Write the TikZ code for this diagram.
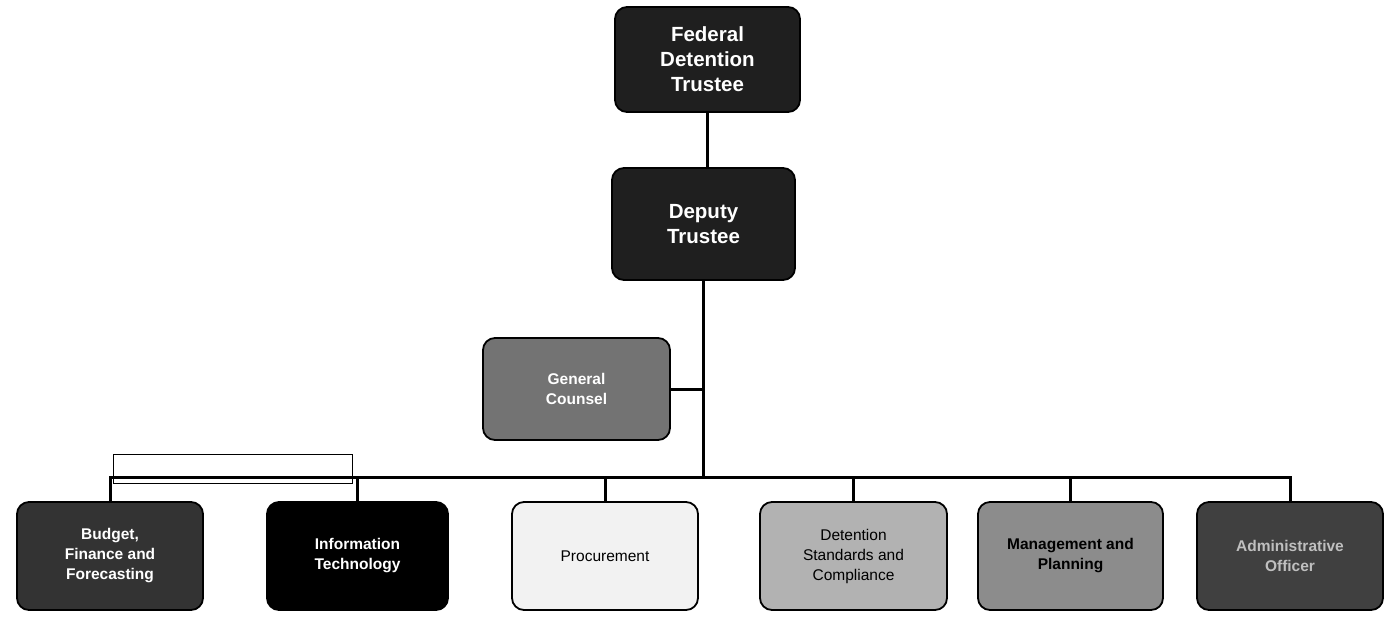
\documentclass[tikz,border=0pt]{standalone}
\usepackage{fontspec}
\setmainfont{Liberation Sans}
\begin{document}
\begin{tikzpicture}[x=1pt,y=-1pt,
  orgbox/.style={draw=black, line width=1.8pt, rounded corners=12pt, align=center, inner sep=0pt},
  topfont/.style={font=\fontsize{20.5}{25}\selectfont\bfseries, text=white},
  lowfont/.style={font=\fontsize{15.5}{20}\selectfont\bfseries},
  regfont/.style={font=\fontsize{15.5}{20}\selectfont},
  link/.style={draw=black, line width=3pt},
  thin/.style={draw=black, line width=1pt}]
\useasboundingbox (0,0) rectangle (1389,619);
\fill[white] (0,0) rectangle (1389,619);
% top boxes
\node[orgbox, topfont, fill=black!88, minimum width=185pt, minimum height=105pt] (fed) at (707.5,59.5) {Federal\\Detention\\Trustee};
\node[orgbox, topfont, fill=black!88, minimum width=183pt, minimum height=112pt] (dep) at (703.5,224) {Deputy\\Trustee};
\node[orgbox, lowfont, text=white, fill=black!55, minimum width=187pt, minimum height=102pt] (gc) at (576.5,389) {General\\Counsel};
% bottom row
\node[orgbox, lowfont, text=white, fill=black!80, minimum width=186pt, minimum height=108pt] (bud) at (110,556) {Budget,\\Finance and\\Forecasting};
\node[orgbox, lowfont, text=white, fill=black, minimum width=181pt, minimum height=108pt] (it) at (357.5,556) {Information\\Technology};
\node[orgbox, regfont, fill=black!5, minimum width=186pt, minimum height=108pt] (proc) at (605,556) {Procurement};
\node[orgbox, regfont, fill=black!30, minimum width=187pt, minimum height=108pt] (det) at (853.5,556) {Detention\\Standards and\\Compliance};
\node[orgbox, lowfont, fill=black!45, minimum width=185pt, minimum height=108pt] (mgmt) at (1070.5,556) {Management and\\Planning};
\node[orgbox, lowfont, text=black!25, fill=black!75, minimum width=186pt, minimum height=108pt] (adm) at (1290,556) {Administrative\\Officer};
% bus
\coordinate (busy) at (0,477);
\coordinate (busL) at (bud.north |- busy);
\coordinate (busR) at (adm.north |- busy);
\coordinate (trunk) at (dep.south |- busy);
\coordinate (gcj) at (gc.east -| dep.south);
\coordinate (fedj) at (fed.south |- dep.north);
% bracket
\coordinate (brA) at (113,454);
\coordinate (brB) at (352,483);
\draw[thin] (brA) rectangle (brB);
% connectors
\draw[link] (fed.south) -- (fedj);
\draw[link] (dep.south) -- (trunk);
\draw[link] (gc.east) -- (gcj);
\draw[link, line cap=rect] (busL) -- (busR);
\foreach \n in {bud,it,proc,det,mgmt,adm}{
  \draw[link] (\n.north |- busy) -- (\n.north);
}
\end{tikzpicture}
\end{document}
